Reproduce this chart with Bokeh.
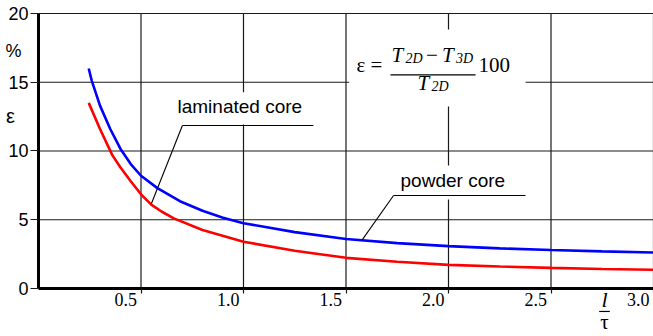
from bokeh.plotting import figure
from bokeh.models import (Label, LabelSet, Arrow, BoxAnnotation, FixedTicker,
                          ColumnDataSource, Range1d)
from bokeh.embed import file_html
from bokeh.resources import INLINE

# ---- data ----
x_powder = [0.245, 0.26, 0.3, 0.35, 0.4, 0.45, 0.5, 0.58, 0.69, 0.8, 0.9, 1.0,
            1.25, 1.5, 1.75, 2.0, 2.25, 2.5, 2.75, 3.0]
y_powder = [16.0, 15.1, 13.3, 11.6, 10.15, 9.05, 8.2, 7.3, 6.35, 5.65, 5.15, 4.75,
            4.1, 3.6, 3.3, 3.08, 2.92, 2.8, 2.7, 2.62]

x_laminated = [0.245, 0.3, 0.36, 0.4, 0.45, 0.5, 0.55, 0.6, 0.66, 0.8, 1.0,
               1.25, 1.5, 1.75, 2.0, 2.25, 2.5, 2.75, 3.0]
y_laminated = [13.5, 11.6, 9.7, 8.8, 7.8, 6.85, 6.1, 5.6, 5.1, 4.25, 3.4,
               2.75, 2.23, 1.95, 1.72, 1.6, 1.5, 1.42, 1.36]

x_ticks = [0.5, 1.0, 1.5, 2.0, 2.5, 3.0]
x_tick_labels = ["0.5", "1.0", "1.5", "2.0", "2.5", "3.0"]
y_ticks = [0, 5, 10, 15, 20]

SANS = "Liberation Sans"
SERIF = "Liberation Serif"
GRID = "#1a1a1a"

X0, X1 = 0.0, 3.0
Y0, Y1 = 0.0, 20.0

# frame covers the whole canvas; axes are pinned at x=0 / y=0
p = figure(width=653, height=336, output_backend="svg", toolbar_location=None,
           x_range=Range1d(-0.18537, 3.0), y_range=Range1d(-3.491, 20.945),
           min_border=0)
p.outline_line_color = None
p.background_fill_color = "white"
p.xgrid.visible = False
p.ygrid.visible = False

p.xaxis.ticker = FixedTicker(ticks=x_ticks)
p.yaxis.ticker = FixedTicker(ticks=y_ticks)
p.xaxis.fixed_location = 0
p.yaxis.fixed_location = 0
p.xaxis.bounds = (X0, X1)
p.yaxis.bounds = (Y0, Y1)
for ax in (p.xaxis, p.yaxis):
    ax.axis_line_width = 3
    ax.axis_line_color = "black"
    ax.major_tick_line_color = GRID
    ax.major_tick_line_width = 1.2
    ax.major_tick_in = 0
    ax.minor_tick_line_color = None
p.xaxis.major_tick_out = 5
p.yaxis.major_tick_out = 8
p.xaxis.major_label_text_color = None
p.yaxis.major_label_text_font = SANS
p.yaxis.major_label_text_font_size = "18px"
p.yaxis.major_label_text_color = "black"
p.yaxis.major_label_standoff = 2

# grid lines limited to the data area (from the tick lists)
vx = [t for t in x_ticks]
p.segment(x0=vx, x1=vx, y0=[Y0] * len(vx), y1=[Y1] * len(vx),
          line_color=GRID, line_width=1.2)
hy = [t for t in y_ticks if t > Y0]
p.segment(x0=[X0] * len(hy), x1=[X1] * len(hy), y0=hy, y1=hy,
          line_color=GRID, line_width=1.2)

# curves
p.line(x_powder, y_powder, line_color="#0000ff", line_width=2.6)
p.line(x_laminated, y_laminated, line_color="#ff0000", line_width=2.6)

# x tick labels (left of the tick, as in the reference)
src = ColumnDataSource(dict(x=x_ticks, y=[Y0] * len(x_ticks), t=x_tick_labels))
p.add_layout(LabelSet(x="x", y="y", text="t", source=src, text_align="right",
                      text_baseline="top", x_offset=-4, y_offset=-5,
                      text_font=SANS, text_font_size="18px", text_color="black"))

# white boxes behind the texts (interrupt grid lines)
for l, r, b, t in [(1.515, 2.376, 13.24, 18.84),
                   (0.668, 1.341, 11.93, 14.28),
                   (1.732, 2.376, 6.47, 8.95)]:
    p.add_layout(BoxAnnotation(left=l, right=r, bottom=b, top=t,
                               fill_color="white", fill_alpha=1,
                               line_color=None, level="annotation"))

def seg(x0, y0, x1, y1, w=1.1):
    p.add_layout(Arrow(end=None, x_start=x0, y_start=y0, x_end=x1, y_end=y1,
                       line_color="black", line_width=w))

BASE_SHIFT = 7  # baseline correction in screen px

def lab(x, y, text, font=SANS, size="19px", style="normal", align="left",
        baseline="alphabetic", xo=0, yo=None):
    if yo is None:
        yo = BASE_SHIFT if baseline == "alphabetic" else 0
    p.add_layout(Label(x=x, y=y, text=text, text_font=font, text_font_size=size,
                       text_font_style=style, text_align=align,
                       text_baseline=baseline, x_offset=xo, y_offset=yo,
                       text_color="black"))

# curve labels with leaders
lab(0.678, 12.73, "laminated core")
seg(0.702, 11.85, 1.341, 11.85)
seg(0.702, 11.85, 0.551, 6.18)

lab(1.766, 7.35, "powder core")
seg(1.732, 6.76, 2.376, 6.76)
seg(1.732, 6.76, 1.579, 3.54)

# formula
lab(1.551, 15.71, "ε =", font=SERIF, size="21px")
lab(1.722, 16.44, "T", font=SERIF, size="21px", style="italic")
lab(1.790, 16.22, "2D", font=SERIF, size="14px", style="italic")
lab(1.890, 16.44, "\u2212", font=SERIF, size="21px")
lab(1.968, 16.44, "T", font=SERIF, size="21px", style="italic")
lab(2.036, 16.22, "3D", font=SERIF, size="14px", style="italic")
seg(1.717, 15.54, 2.132, 15.54, w=1.2)
lab(1.849, 14.40, "T", font=SERIF, size="21px", style="italic")
lab(1.917, 14.18, "2D", font=SERIF, size="14px", style="italic")
lab(2.146, 15.71, "100", font=SERIF, size="21px")

# y axis label
lab(0, 17.3, "%", size="18px", align="center", baseline="middle", xo=-25)
lab(0, 12.36, "ε", size="20px", align="center", baseline="middle", xo=-28, yo=3)

# x axis label l / tau
lab(2.761, -1.31, "l", font=SERIF, size="22px", style="italic", align="center")
seg(2.735, -1.67, 2.787, -1.67, w=1.2)
lab(2.761, -2.98, "τ", font=SERIF, size="21px", align="center")

open("out.html", "w").write(file_html(p, INLINE))
